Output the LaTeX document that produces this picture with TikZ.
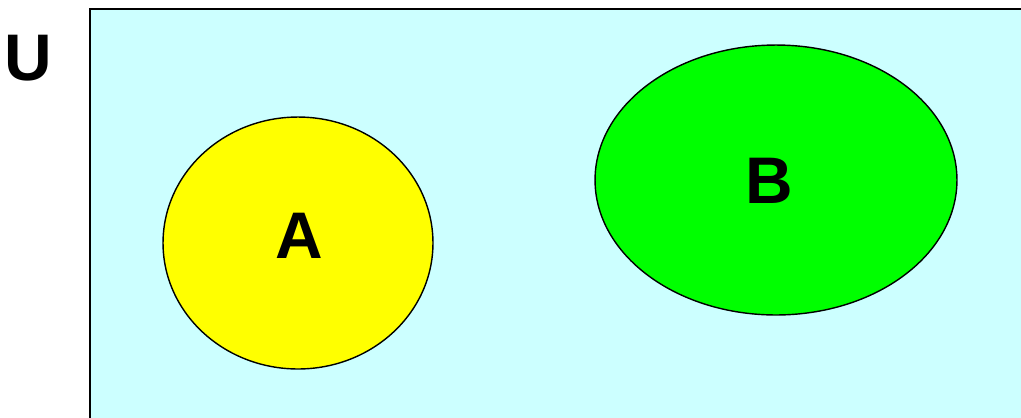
\documentclass[tikz,border=0pt]{standalone}
\usepackage{fontspec}
\setmainfont{Liberation Sans}
\usepackage{xcolor}
\usetikzlibrary{shapes.geometric, positioning}

\definecolor{univcyan}{RGB}{204,255,255}
\definecolor{setyellow}{RGB}{255,255,0}
\definecolor{setgreen}{RGB}{0,255,0}

\begin{document}
\begin{tikzpicture}[x=0.02cm,y=-0.02cm,
  setshape/.style={ellipse,draw=black,line width=0.8pt,inner sep=0pt},
  lbl/.style={font=\fontsize{37.5}{40}\selectfont\bfseries,inner sep=0pt}]
\useasboundingbox (0,0) rectangle (1021,417);
\clip (0,0) rectangle (1021,417);
% universe
\draw[fill=univcyan,line width=1.2pt] (90,9) rectangle (1060,460);
\node[lbl] (U) at (28,58) {U};
% the two sets
\node[setshape,fill=setyellow,minimum width=5.4cm,minimum height=5.04cm] (A) at (298,243) {};
\node[setshape,fill=setgreen,minimum width=7.24cm,minimum height=5.4cm] (B) at (776,180) {};
\node[lbl] (Albl) at (299,236) {A};
\node[lbl] (Blbl) at (769,181) {B};
\end{tikzpicture}
\end{document}
